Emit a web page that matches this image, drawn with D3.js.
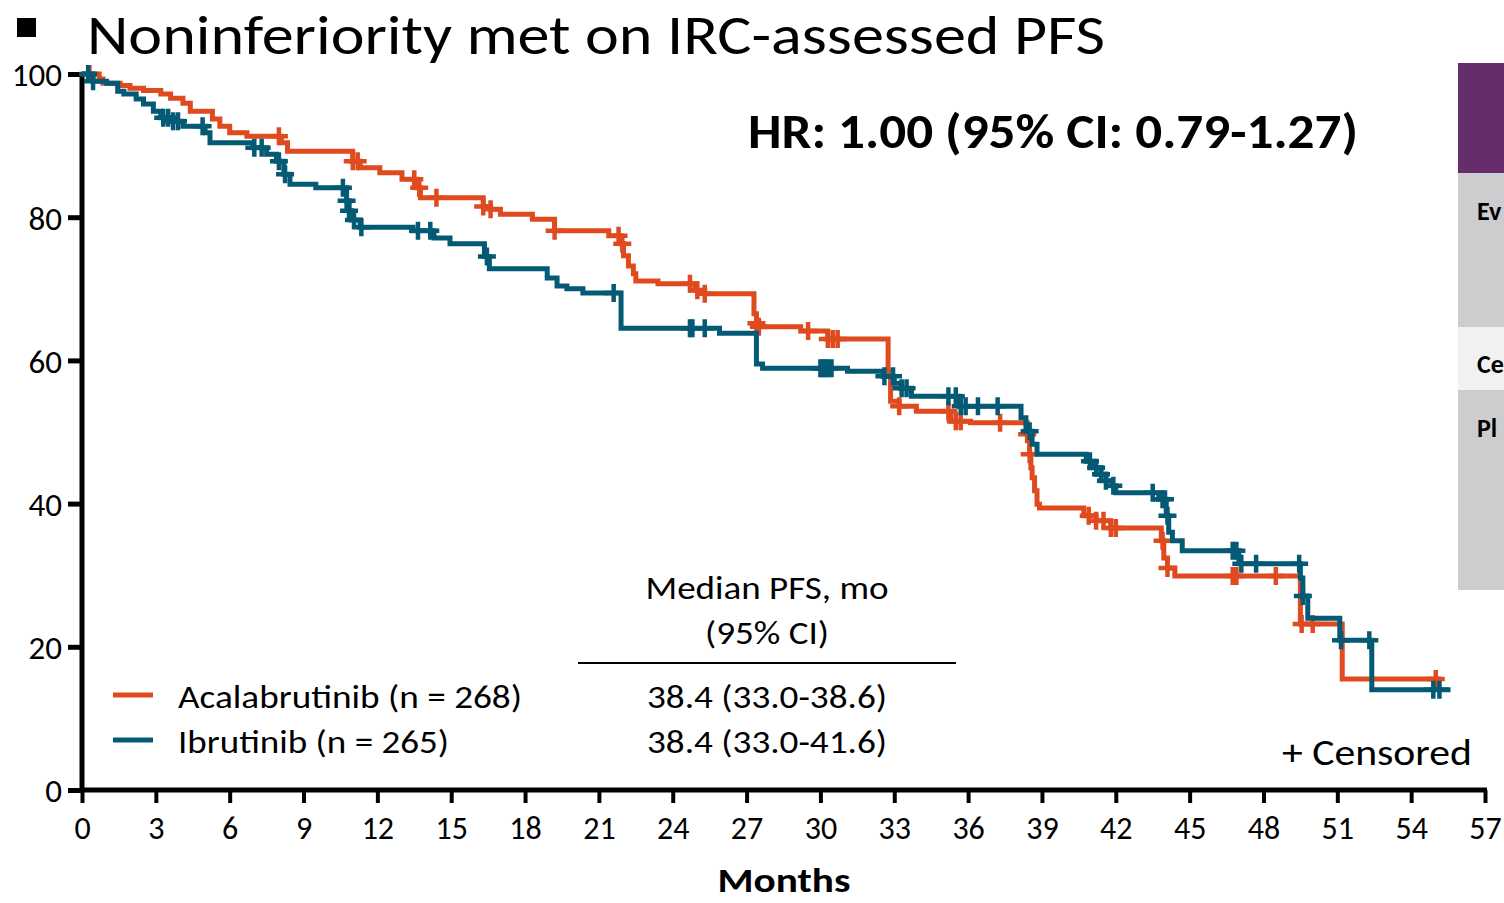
<!DOCTYPE html>
<html>
<head>
<meta charset="utf-8">
<script src="https://cdn.jsdelivr.net/npm/d3@7"></script>
<style>
  html, body { margin: 0; padding: 0; background: #ffffff; }
  svg { display: block; font-family: Carlito, Lato, "Open Sans", sans-serif; }
</style>
</head>
<body>
<svg id="chart" width="1504" height="903"></svg>
<script>
// ---- Data -------------------------------------------------------------
const monthTicks = [0, 3, 6, 9, 12, 15, 18, 21, 24, 27, 30, 33, 36, 39, 42, 45, 48, 51, 54, 57];
const pctTicks = [0, 20, 40, 60, 80, 100];

// Acalabrutinib: step times (months) and PFS (%) from that time on
const acalaTime = [0, 0.7, 0.85, 1.55, 1.95, 2.5, 3.2, 3.6, 4.1, 4.4, 5.3, 5.6, 6.0, 6.7, 8.1, 8.35,
  11.0, 11.3, 12.1, 13.0, 13.6, 13.75, 16.3, 16.6, 17.0, 18.3, 19.2, 21.4, 21.9, 22.0, 22.2, 22.4, 22.5,
  23.4, 24.9, 25.3, 27.3, 27.4, 27.5, 29.2, 30.3, 32.75, 32.85, 33.2, 33.9, 35.3, 36.1,
  38.4, 38.5, 38.55, 38.6, 38.7, 38.8, 38.9, 40.7, 41.2, 41.8, 43.85, 43.95, 44.1, 44.4, 49.5, 51.2];
const acalaSurv = [100, 99.3, 98.7, 98.4, 98.0, 97.7, 97.2, 96.6, 95.9, 94.8, 93.7, 92.7, 91.8, 91.3, 90.4, 89.2,
  87.8, 86.9, 86.2, 85.3, 84.1, 82.7, 81.5, 81.1, 80.4, 79.7, 78.1, 77.4, 76.3, 74.6, 73.2, 72.1, 71.1,
  70.7, 69.8, 69.3, 66.5, 65.2, 64.7, 64.1, 63.0, 58.5, 54.3, 53.6, 52.9, 51.5, 51.3,
  49.7, 46.9, 45.0, 43.6, 41.8, 39.9, 39.4, 38.3, 37.6, 36.6, 34.8, 32.4, 31.0, 29.9, 23.2, 15.5];
const acalaEnd = 55.2;
const acalaCensor = [0.3, 8.0, 11.0, 11.2, 13.5, 13.7, 14.4, 16.3, 16.6, 19.2, 21.8, 21.95, 24.7, 25.0, 25.3,
  27.4, 27.5, 29.5, 30.3, 30.5, 30.7, 33.2, 35.2, 35.5, 35.7, 37.3, 38.4, 38.5,
  40.9, 41.2, 41.5, 41.8, 42.0, 43.9, 44.1, 46.75, 46.9, 48.5, 49.55, 50.0, 55.0];

// Ibrutinib
const ibruTime = [0, 0.45, 1.0, 1.45, 1.7, 2.2, 2.5, 2.9, 3.2, 3.7, 4.1, 5.0, 5.2, 6.95, 7.5, 7.9, 8.2, 8.45,
  9.5, 10.75, 10.85, 10.95, 11.3, 13.45, 14.3, 14.95, 16.35, 16.55, 18.9, 19.3, 19.7, 20.35, 21.9,
  25.9, 27.4, 27.65, 31.1, 32.55, 33.0, 33.3, 33.7, 35.65, 38.15, 38.35, 38.6, 38.8,
  40.8, 41.1, 41.4, 41.6, 41.85, 42.0, 43.75, 44.05, 44.15, 44.3, 44.7, 47.0, 49.5, 49.6, 49.8, 51.1, 52.4];
const ibruSurv = [100, 99.0, 98.7, 97.6, 97.2, 96.5, 95.8, 94.8, 93.9, 93.4, 92.7, 91.8, 90.4, 89.7, 88.8, 87.8, 86.0, 84.6,
  84.1, 82.3, 80.9, 79.6, 78.6, 78.1, 77.1, 76.3, 74.5, 72.8, 71.5, 70.4, 70.0, 69.4, 64.5,
  63.8, 59.5, 58.9, 58.5, 57.8, 56.8, 56.1, 55.0, 53.6, 52.0, 50.1, 48.3, 46.9,
  45.9, 45.0, 44.1, 43.2, 42.5, 41.5, 40.6, 38.3, 36.0, 34.8, 33.4, 31.6, 29.6, 27.1, 24.0, 20.9, 14.0];
const ibruEnd = 55.6;
const ibruCensor = [0.25, 0.45, 3.3, 3.5, 3.7, 3.9, 4.9, 7.0, 7.3, 8.0, 8.25, 10.6, 10.75, 10.85, 11.05, 11.35,
  13.65, 14.15, 16.45, 21.6, 24.7, 24.8, 25.3, 30.0, 30.1, 30.2, 30.3, 30.45, 32.6, 32.95, 33.3, 33.5,
  35.2, 35.5, 35.7, 35.9, 36.4, 37.2, 38.5, 40.95, 41.2, 41.4, 41.6, 41.9, 43.5, 43.9, 44.0, 44.1,
  46.75, 46.9, 47.1, 47.7, 49.45, 49.6, 51.15, 52.3, 54.9, 55.15];

const seriesNames = ["Acalabrutinib (n = 268)", "Ibrutinib (n = 265)"];
const medianLabels = ["38.4 (33.0-38.6)", "38.4 (33.0-41.6)"];
const panelLabels = ["Ev", "Ce", "Pl"];
const colors = ["#E04A1F", "#045A74"];

// ---- Drawing ----------------------------------------------------------
const svg = d3.select("#chart");
svg.append("rect").attr("width", 1504).attr("height", 903).attr("fill", "#fff");

const x = d3.scaleLinear().domain([0, 57]).range([82, 1485]);
const y = d3.scaleLinear().domain([0, 100]).range([790, 74]);

function fit(sel, w) {
  const len = sel.node().getComputedTextLength();
  if (Math.abs(len - w) / w > 0.015) sel.attr("textLength", w).attr("lengthAdjust", "spacingAndGlyphs");
  return sel;
}

// Title with square bullet
svg.append("rect").attr("x", 17).attr("y", 18).attr("width", 19).attr("height", 19).attr("fill", "#000");
fit(svg.append("text").attr("x", 87).attr("y", 54).attr("font-size", 55).attr("fill", "#000")
  .text("Noninferiority met on IRC-assessed PFS"), 1018);

// Side table strip at the right edge
const panel = svg.append("g");
panel.append("rect").attr("x", 1458).attr("y", 63).attr("width", 46).attr("height", 110).attr("fill", "#652D6C");
panel.append("rect").attr("x", 1458).attr("y", 173).attr("width", 46).attr("height", 154).attr("fill", "#CDCDCF");
panel.append("rect").attr("x", 1458).attr("y", 327).attr("width", 46).attr("height", 63).attr("fill", "#F1F1F1");
panel.append("rect").attr("x", 1458).attr("y", 390).attr("width", 46).attr("height", 200).attr("fill", "#CDCDCF");
[220, 373, 437].forEach((yy, i) => {
  panel.append("text").attr("x", 1477).attr("y", yy).attr("font-size", 26).attr("font-weight", 700)
    .attr("fill", "#000").text(panelLabels[i]);
});

// Axes
const xAxis = svg.append("g").attr("transform", "translate(0,790)")
  .call(d3.axisBottom(x).tickValues(monthTicks).tickSize(13).tickSizeOuter(0).tickFormat(d3.format("d")));
xAxis.select(".domain").attr("stroke", "#000").attr("stroke-width", 5).attr("d", "M80,0H1487");
xAxis.selectAll(".tick line").attr("stroke", "#000").attr("stroke-width", 4);
xAxis.selectAll(".tick text").attr("y", 49).attr("dy", 0).attr("font-size", 32)
  .attr("font-family", "Carlito, Lato, sans-serif").attr("fill", "#000");

const yAxis = svg.append("g").attr("transform", "translate(82,0)")
  .call(d3.axisLeft(y).tickValues(pctTicks).tickSize(14).tickSizeOuter(0).tickPadding(6));
yAxis.select(".domain").attr("stroke", "#000").attr("stroke-width", 5).attr("d", "M0,72V792");
yAxis.selectAll(".tick line").attr("stroke", "#000").attr("stroke-width", 5);
yAxis.selectAll(".tick text").attr("dy", "0.36em").attr("font-size", 33)
  .attr("font-family", "Carlito, Lato, sans-serif").attr("fill", "#000");

fit(svg.append("text").attr("x", 784).attr("y", 892).attr("text-anchor", "middle").attr("font-size", 34)
  .attr("font-weight", 700).attr("fill", "#000").text("Months"), 133);

// Kaplan-Meier curves
const line = d3.line().x(d => x(d[0])).y(d => y(d[1])).curve(d3.curveStepAfter);
function stepValue(times, surv, t) {
  const i = d3.bisectRight(times, t) - 1;
  return surv[Math.max(0, i)];
}
const series = [
  { times: acalaTime, surv: acalaSurv, end: acalaEnd, censor: acalaCensor, color: colors[0] },
  { times: ibruTime, surv: ibruSurv, end: ibruEnd, censor: ibruCensor, color: colors[1] }
];
series.forEach(s => {
  const pts = s.times.map((t, i) => [t, s.surv[i]]);
  pts.push([s.end, s.surv[s.surv.length - 1]]);
  const g = svg.append("g");
  g.append("path").attr("d", line(pts)).attr("fill", "none").attr("stroke", s.color).attr("stroke-width", 5);
  const arm = 9;
  g.selectAll("path.cens").data(s.censor).join("path").attr("class", "cens")
    .attr("d", t => {
      const cx = x(t), cy = y(stepValue(s.times, s.surv, t));
      return `M${cx - arm},${cy}H${cx + arm}M${cx},${cy - arm}V${cy + arm}`;
    })
    .attr("stroke", s.color).attr("stroke-width", 4.5).attr("fill", "none");
});

// Hazard ratio
fit(svg.append("text").attr("x", 748).attr("y", 148).attr("font-size", 48).attr("font-weight", 700)
  .attr("fill", "#000").text("HR: 1.00 (95% CI: 0.79-1.27)"), 610);

// Legend
const legendY = [695, 740];
const legendW = [344, 271];
seriesNames.forEach((name, i) => {
  svg.append("line").attr("x1", 113).attr("x2", 153).attr("y1", legendY[i]).attr("y2", legendY[i])
    .attr("stroke", colors[i]).attr("stroke-width", 5);
  fit(svg.append("text").attr("x", 178).attr("y", legendY[i] + 13).attr("font-size", 32).attr("fill", "#000")
    .text(name), legendW[i]);
});

// Median PFS table
fit(svg.append("text").attr("x", 767).attr("y", 599).attr("text-anchor", "middle").attr("font-size", 32)
  .attr("fill", "#000").text("Median PFS, mo"), 243);
fit(svg.append("text").attr("x", 767).attr("y", 644).attr("text-anchor", "middle").attr("font-size", 32)
  .attr("fill", "#000").text("(95% CI)"), 124);
svg.append("line").attr("x1", 578).attr("x2", 956).attr("y1", 663).attr("y2", 663)
  .attr("stroke", "#000").attr("stroke-width", 2);
medianLabels.forEach((m, i) => {
  fit(svg.append("text").attr("x", 767).attr("y", legendY[i] + 13).attr("text-anchor", "middle")
    .attr("font-size", 32).attr("fill", "#000").text(m), 240);
});

// Censor key
fit(svg.append("text").attr("x", 1282).attr("y", 765).attr("font-size", 36).attr("fill", "#000")
  .text("+ Censored"), 190);
</script>
</body>
</html>
